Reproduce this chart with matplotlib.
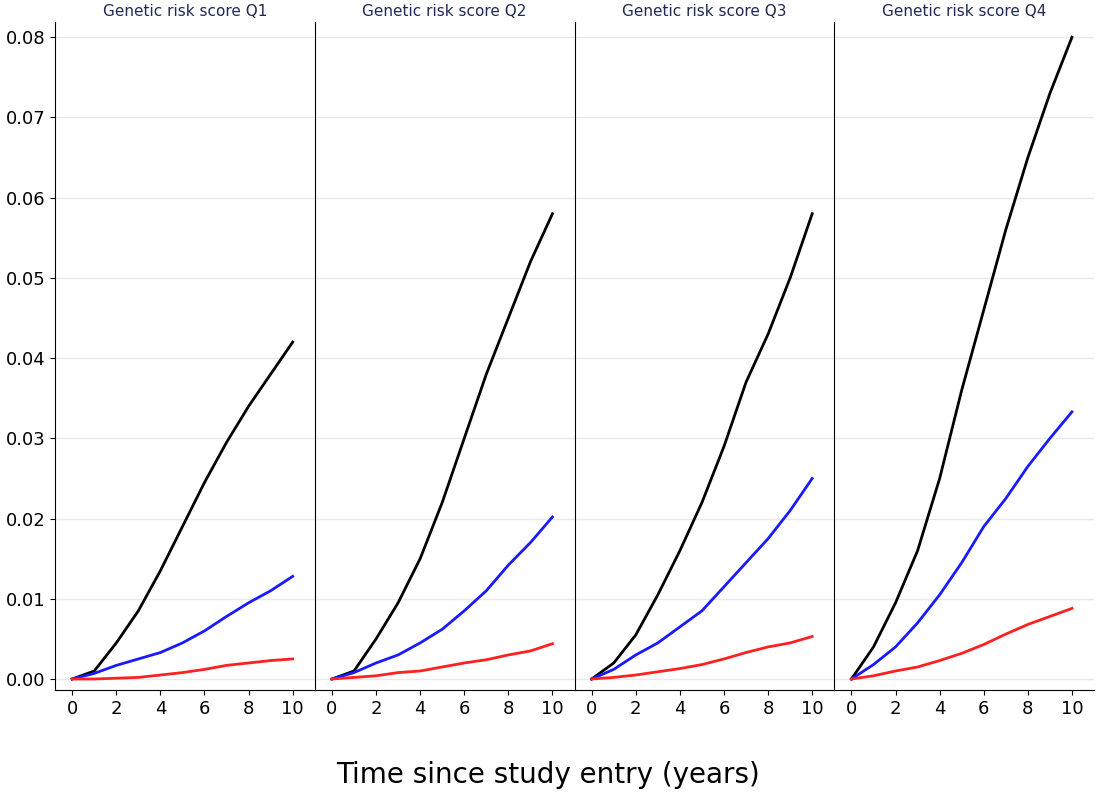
import matplotlib.pyplot as plt
import numpy as np

years = [0, 1, 2, 3, 4, 5, 6, 7, 8, 9, 10]
titles = ['Genetic risk score Q1', 'Genetic risk score Q2',
          'Genetic risk score Q3', 'Genetic risk score Q4']

black = [
    [0, 0.001, 0.0045, 0.0085, 0.0135, 0.019, 0.0245, 0.0295, 0.034, 0.038, 0.042],
    [0, 0.001, 0.005, 0.0095, 0.015, 0.022, 0.030, 0.038, 0.045, 0.052, 0.058],
    [0, 0.002, 0.0055, 0.0105, 0.016, 0.022, 0.029, 0.037, 0.043, 0.050, 0.058],
    [0, 0.004, 0.0095, 0.016, 0.025, 0.036, 0.046, 0.056, 0.065, 0.073, 0.080],
]
blue = [
    [0, 0.0007, 0.0017, 0.0025, 0.0033, 0.0045, 0.006, 0.0078, 0.0095, 0.011, 0.0128],
    [0, 0.0008, 0.002, 0.003, 0.0045, 0.0062, 0.0085, 0.011, 0.0142, 0.017, 0.0202],
    [0, 0.0012, 0.003, 0.0045, 0.0065, 0.0085, 0.0115, 0.0145, 0.0175, 0.021, 0.025],
    [0, 0.0018, 0.004, 0.007, 0.0105, 0.0145, 0.019, 0.0225, 0.0265, 0.030, 0.0333],
]
red = [
    [0, 0, 0.0001, 0.0002, 0.0005, 0.0008, 0.0012, 0.0017, 0.002, 0.0023, 0.0025],
    [0, 0.0002, 0.0004, 0.0008, 0.001, 0.0015, 0.002, 0.0024, 0.003, 0.0035, 0.0044],
    [0, 0.0002, 0.0005, 0.0009, 0.0013, 0.0018, 0.0025, 0.0033, 0.004, 0.0045, 0.0053],
    [0, 0.0004, 0.001, 0.0015, 0.0023, 0.0032, 0.0043, 0.0056, 0.0068, 0.0078, 0.0088],
]

fig = plt.figure(figsize=(10.96, 8), dpi=100)
left, right = 55 / 1096, 1094 / 1096
w = (right - left) / 4
bottom, top = 1 - 690 / 800, 1 - 22 / 800

for i in range(4):
    ax = fig.add_axes([left + i * w, bottom, w, top - bottom])
    ax.plot(years, black[i], color='black', lw=2)
    ax.plot(years, blue[i], color='#1a1aff', lw=2)
    ax.plot(years, red[i], color='#ff2020', lw=2)
    ax.set_xlim(-0.78, 11.0)
    ax.set_ylim(-0.00137, 0.0819)
    ax.set_xticks(range(0, 11, 2))
    ax.set_yticks(np.arange(0, 0.081, 0.01))
    ax.grid(axis='y', color='#e6eaee', lw=1)
    ax.set_axisbelow(True)
    for s in ['top', 'right']:
        ax.spines[s].set_visible(False)
    ax.tick_params(labelsize=13)
    if i == 0:
        ax.set_yticklabels([f'{v:.2f}' for v in np.arange(0, 0.081, 0.01)])
    else:
        ax.tick_params(axis='y', left=False, labelleft=False)
    ax.set_title(titles[i], fontsize=11, color='#1e2a55', pad=4)

fig.text(0.5, 1 - 775 / 800, 'Time since study entry (years)', ha='center',
         va='center', fontsize=20)
fig.savefig('out.png', dpi=100)
